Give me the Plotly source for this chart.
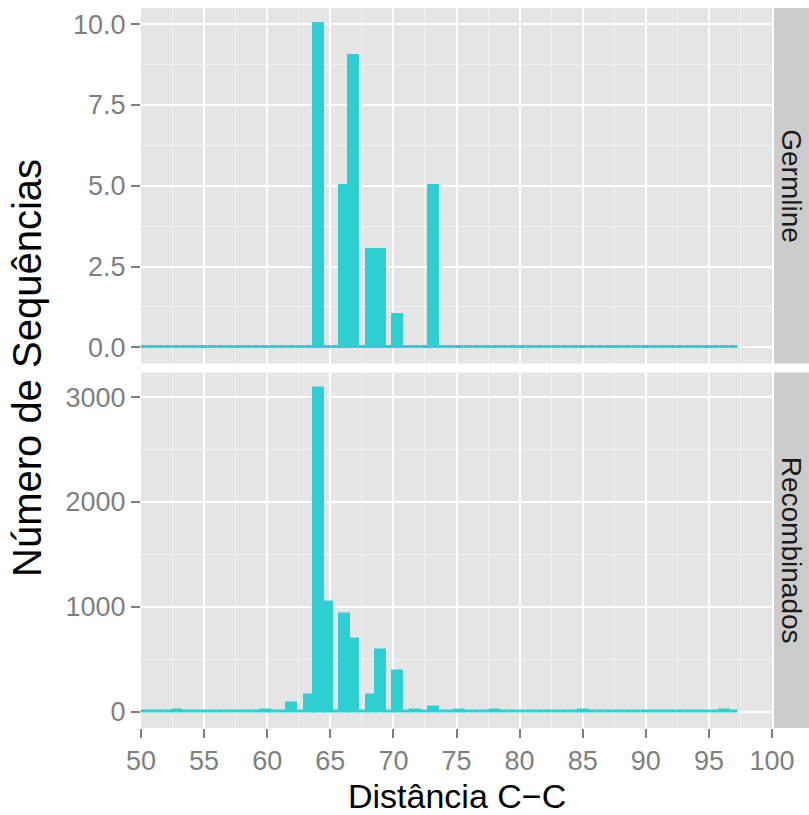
import numpy as np
import plotly.graph_objects as go
from plotly.subplots import make_subplots

# Histogram bins (left-closed), same for both facets
BIN_START = 49.7
BIN_WIDTH = 0.7
N_BINS = 68

# Germline sequences: C-C distance and number of sequences
germline_dist = [64, 66, 67, 68, 69, 70, 73]
germline_count = [10, 5, 9, 3, 3, 1, 5]

# Recombined sequences
recomb_dist = [53, 59, 60, 61, 62, 63, 64, 65, 66, 67, 68, 69, 70, 72, 73,
               74, 75, 76, 78, 85, 96]
recomb_count = [12, 8, 12, 8, 75, 155, 3080, 1040, 930, 690, 158, 589, 389, 15, 40,
                6, 12, 8, 10, 10, 12]

facet_labels = ["Germline", "Recombinados"]
x_ticks = list(range(50, 101, 5))

BAR_COLOR = "#2DCFD3"
PANEL_BG = "#E5E5E5"
STRIP_BG = "#CCCCCC"
TICK_GREY = "#7F7F7F"
FONT = "Liberation Sans, Arial, sans-serif"


def binned(dist, count):
    d = np.asarray(dist, dtype=float)
    idx = np.floor((d - BIN_START) / BIN_WIDTH + 1e-9).astype(int)
    counts = np.bincount(idx, weights=count, minlength=N_BINS)[:N_BINS]
    centers = BIN_START + BIN_WIDTH * (np.arange(N_BINS) + 0.5)
    return centers, counts


W, H = 809, 815
ML, MR, MT, MB = 141, 37, 8, 87
plot_w = W - ML - MR
plot_h = H - MT - MB

fig = make_subplots(rows=2, cols=1, shared_xaxes=True,
                    vertical_spacing=9 / plot_h)

for row, (dist, count) in enumerate([(germline_dist, germline_count),
                                     (recomb_dist, recomb_count)], start=1):
    centers, counts = binned(dist, count)
    fig.add_trace(go.Bar(
        x=centers, y=counts, width=BIN_WIDTH,
        marker=dict(color=BAR_COLOR, line=dict(color=BAR_COLOR, width=3)),
        showlegend=False, hoverinfo="x+y",
    ), row=row, col=1)
    top = counts.max()
    fig.update_yaxes(range=[-0.05 * top, 1.05 * top], row=row, col=1)

axis_common = dict(
    showline=False, zeroline=False,
    gridcolor="white", gridwidth=2,
    ticks="outside", ticklen=9, tickwidth=2, tickcolor=TICK_GREY,
    tickfont=dict(family=FONT, size=27, color=TICK_GREY),
)

fig.update_xaxes(range=[50, 100], tickvals=x_ticks, **axis_common,
                 minor=dict(dtick=2.5, tick0=50, showgrid=True,
                            gridcolor="#F2F2F2", gridwidth=1, ticks=""))
fig.update_xaxes(showticklabels=False, ticks="", row=1, col=1)

fig.update_yaxes(**axis_common)
fig.update_yaxes(dtick=2.5, tick0=0, tickformat=".1f",
                 minor=dict(dtick=1.25, tick0=0, showgrid=True,
                            gridcolor="#F2F2F2", gridwidth=1, ticks=""),
                 row=1, col=1)
fig.update_yaxes(dtick=1000, tick0=0, tickformat="d",
                 minor=dict(dtick=500, tick0=0, showgrid=True,
                            gridcolor="#F2F2F2", gridwidth=1, ticks=""),
                 row=2, col=1)

# Facet strips on the right
strip_x0 = 1 + 2 / plot_w
strip_x1 = (W - ML) / plot_w
for i, label in enumerate(facet_labels):
    yref = "y domain" if i == 0 else "y2 domain"
    fig.add_shape(type="rect", xref="paper", yref=yref,
                  x0=strip_x0, x1=strip_x1, y0=0, y1=1,
                  fillcolor=STRIP_BG, line=dict(width=0), layer="below")
    fig.add_annotation(text=label, xref="paper", yref=yref,
                       x=(strip_x0 + strip_x1) / 2, y=0.5,
                       textangle=90, showarrow=False,
                       xanchor="center", yanchor="middle",
                       font=dict(family=FONT, size=28, color="#1A1A1A"))

# Axis titles
fig.add_annotation(text="Distância C−C", xref="paper", yref="paper",
                   x=0.5, y=-(796 - (H - MB)) / plot_h,
                   xanchor="center", yanchor="middle", showarrow=False,
                   font=dict(family=FONT, size=34, color="black"))
fig.add_annotation(text="Número de Sequências", xref="paper", yref="paper",
                   x=-(ML - 27) / plot_w, y=0.5, textangle=-90,
                   xanchor="center", yanchor="middle", showarrow=False,
                   font=dict(family=FONT, size=40, color="black"))

fig.update_layout(
    width=W, height=H,
    margin=dict(l=ML, r=MR, t=MT, b=MB),
    paper_bgcolor="white", plot_bgcolor=PANEL_BG,
    bargap=0,
)

fig.write_html("out.html")
